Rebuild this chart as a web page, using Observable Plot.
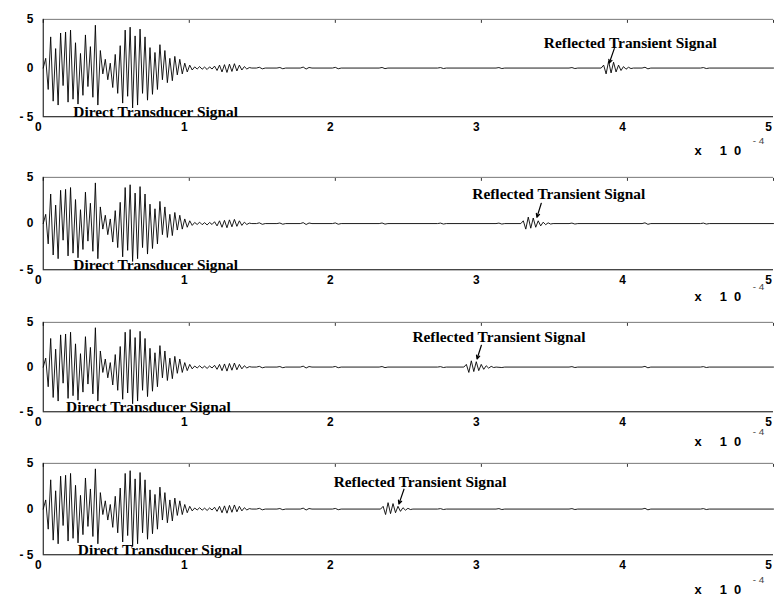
<!DOCTYPE html>
<html><head><meta charset="utf-8">
<script src="https://cdn.jsdelivr.net/npm/d3@7"></script>
<script src="https://cdn.jsdelivr.net/npm/@observablehq/plot@0.6"></script>
<style>
html,body{margin:0;padding:0;background:#fff;overflow:hidden;}
#chart{position:relative;width:775px;height:596px;overflow:hidden;background:#fff;}
#chart svg{position:absolute;left:0;overflow:visible;}
</style></head><body><div id="chart"></div>
<script>
// sample interval of the recorded waveform (seconds, one half-cycle)
const dt = 0.017e-4;
// direct transducer signal, sampled every dt from t = 0
const direct = [0, 1.0, -2.2, 3.2,
  -3.4, 2.0, -3.8, 3.6, -1.8, 3.7, -3.5, 3.9, -3.2, 2.6,
  -3.7, 1.5, -2.8, 3.4, -1.9, 2.2, -3.0, 4.4, -3.8, 1.8,
  -0.6, 0.9, -1.2, 0.5,
  -2.0, 1.4, -2.6, 2.3, -3.6, 3.9, -2.9, 4.2, -4.1, 3.3, -3.8, 4.0, -2.6, 3.2, -3.3, 2.1, -2.7,
  1.6, -2.2, 2.4, -1.2, 1.8, -1.5, 1.0, -1.3, 1.2, -0.7,
  0.9, -0.6, 0.5, -0.4, 0.3, -0.2,
  0.12, -0.1, 0.15, -0.12, 0.1, -0.15, 0.12, -0.1,
  0.2, -0.25, 0.3, -0.4, 0.35, -0.45, 0.4, -0.35, 0.45, -0.3, 0.3, -0.2, 0.15, -0.1,
  0.05, 0];
// reflected transient burst, sampled every dt from its arrival time
const reflected = [0, 0.3, -0.6, 0.7, -0.5, 0.6, -0.4, 0.3, -0.25, 0.15, -0.12, 0.08, -0.05, 0];
// arrival time of the reflected burst in each panel (s)
const reflectStart = [3.82e-4, 3.27e-4, 2.88e-4, 2.31e-4];
// low-level residual ripple after the direct signal: [time (s), value]
const quiet = [[1.46e-4,0],[1.48e-4,0.08],[1.50e-4,-0.08],[1.52e-4,0],[1.60e-4,0],[1.62e-4,0.06],
  [1.64e-4,-0.07],[1.66e-4,0],[1.76e-4,0],[1.78e-4,0.1],[1.80e-4,-0.1],[1.82e-4,0.06],[1.84e-4,0],
  [1.98e-4,0],[2.00e-4,0.07],[2.02e-4,-0.07],[2.04e-4,0],[2.30e-4,0],[2.32e-4,0.06],[2.34e-4,-0.06],
  [2.36e-4,0],[2.70e-4,0],[2.72e-4,0.05],[2.74e-4,-0.05],[2.76e-4,0],[3.10e-4,0],[3.12e-4,0.05],
  [3.14e-4,-0.05],[3.16e-4,0],[3.60e-4,0],[3.62e-4,0.05],[3.64e-4,-0.05],[3.66e-4,0],[4.10e-4,0],
  [4.12e-4,0.08],[4.14e-4,-0.08],[4.16e-4,0],[4.50e-4,0],[4.52e-4,0.05],[4.54e-4,-0.05],[4.56e-4,0],
  [5.0e-4,0]];
const xTicks = [0, 1e-4, 2e-4, 3e-4, 4e-4, 5e-4];
const yTicks = [-5, 0, 5];
const reflectLabel = "Reflected Transient Signal";
const directLabel = "Direct Transducer Signal";
// annotation anchors: label [t, y baseline], arrow [t1, y1, t2, y2]
const reflectLabelPos = [[4.02e-4, 2.1], [3.53e-4, 2.67], [3.12e-4, 2.78], [2.58e-4, 2.4]];
const reflectArrow = [[3.91e-4, 2.0, 3.875e-4, 0.5], [3.41e-4, 2.2, 3.38e-4, 0.67],
  [3.0e-4, 2.44, 2.97e-4, 0.9], [2.47e-4, 2.17, 2.435e-4, 0.54]];
const directLabelT = [0.77e-4, 0.77e-4, 0.72e-4, 0.8e-4];

// layout: frame top / bottom pixel of each panel, and offset of the "x 10^-4" note
const frames = [[19, 117], [177, 270], [322, 412], [463, 555]];
const expOffset = [34, 27, 30, 35];
const MT = 20, MB = 45;
const serif = "'Liberation Serif', 'Times New Roman', serif";

const chart = document.getElementById("chart");
frames.forEach(([top, bottom], p) => {
  const start = reflectStart[p];
  const rEnd = start + reflected.length * dt;
  const pts = direct.map((v, i) => ({t: i * dt, v}));
  quiet.forEach(([t, v]) => { if (t < start - dt || t > rEnd + dt) pts.push({t, v}); });
  reflected.forEach((v, i) => pts.push({t: start + i * dt, v}));
  pts.sort((a, b) => a.t - b.t);

  const [lt, ly] = reflectLabelPos[p];
  const [a1, b1, a2, b2] = reflectArrow[p];
  const svg = Plot.plot({
    width: 780, height: (bottom - top) + MT + MB,
    marginLeft: 43, marginRight: 2, marginTop: MT, marginBottom: MB,
    style: {fontFamily: "'Liberation Sans', Arial, sans-serif", fontSize: "12px", fontWeight: "bold", color: "#000", background: "transparent"},
    x: {domain: [0, 5e-4]},
    y: {domain: [-5, 5]},
    marks: [
      Plot.axisX(xTicks, {tickSize: 0, tickPadding: 6, dx: -5, tickFormat: d => String(Math.round(d * 1e4)), label: null, fontSize: 12}),
      Plot.axisX(xTicks, {anchor: "top", tickSize: 3, dy: 3, tickFormat: () => "", label: null, stroke: "#333"}),
      Plot.axisY(yTicks, {tickSize: 0, tickPadding: 10, tickFormat: d => d < 0 ? "- " + (-d) : String(d), label: null, fontSize: 12}),
      Plot.ruleY([yTicks[2]], {stroke: "#777"}),
      Plot.ruleX([xTicks[0]], {stroke: "#000"}),
      Plot.line(pts, {x: "t", y: "v", stroke: "#000", strokeWidth: 0.9}),
      Plot.ruleY([yTicks[0]], {stroke: "#000"}),
      Plot.text([reflectLabel], {x: lt, y: ly, lineAnchor: "bottom", textAnchor: "middle", fontFamily: serif, fontWeight: "bold", fontSize: 15.5}),
      Plot.arrow([0], {x1: a1, y1: b1, x2: a2, y2: b2, stroke: "#000", strokeWidth: 1.2, headLength: 5, headAngle: 50}),
      Plot.text([directLabel], {x: directLabelT[p], y: yTicks[0], lineAnchor: "bottom", textAnchor: "middle", fontFamily: serif, fontWeight: "bold", fontSize: 15.5}),
      Plot.text(["x\u00a0\u00a0\u00a0\u00a0\u00a01\u00a0\u00a00"], {frameAnchor: "bottom-right", lineAnchor: "middle", dx: -56, dy: expOffset[p], textAnchor: "middle", fontSize: 13, fontWeight: "bold"}),
      Plot.text(["- 4"], {frameAnchor: "bottom-right", lineAnchor: "middle", dx: -15, dy: expOffset[p] - 10, textAnchor: "middle", fontSize: 10, fontWeight: "normal", fill: "#444"})
    ]
  });
  svg.style.top = (top - MT) + "px";
  chart.appendChild(svg);
});
</script></body></html>
